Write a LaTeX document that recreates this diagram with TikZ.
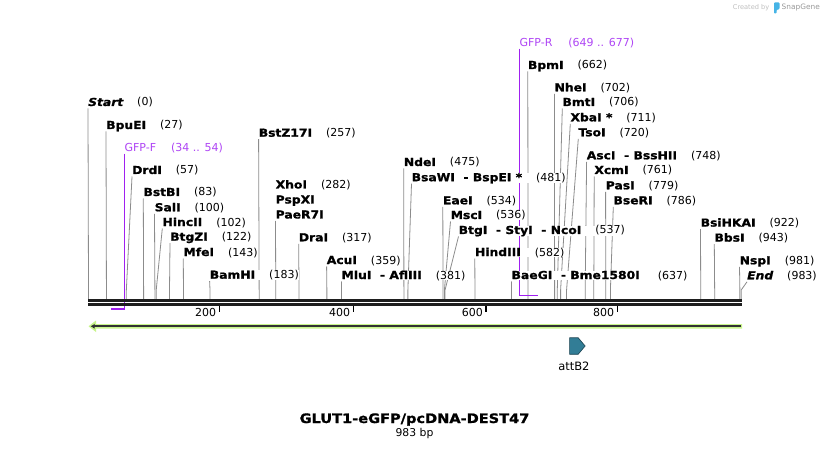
\documentclass[tikz,border=0pt]{standalone}
\usepackage{fontspec}
\setmainfont{DejaVu Sans}
\newfontfamily\namefont{DejaVu Sans}[FakeStretch=1.12, FakeBold=1.2,
  ItalicFont={DejaVu Sans Oblique}, BoldItalicFont={DejaVu Sans Bold Oblique}]
\usepackage{tikz}
\usetikzlibrary{arrows.meta,positioning,shapes,backgrounds}

\definecolor{leadgray}{RGB}{140,140,140}
\definecolor{primerpurple}{RGB}{160,32,240}
\definecolor{primertext}{RGB}{175,70,245}
\definecolor{featgreen}{RGB}{200,245,140}
\definecolor{featline}{RGB}{50,50,50}
\definecolor{attteal}{RGB}{50,125,150}
\definecolor{backblack}{RGB}{30,30,30}
\definecolor{logoblue}{RGB}{70,180,230}

\newcommand{\bploc}[1]{\hspace{14pt}{\normalfont(#1)}}

\begin{document}
\begin{tikzpicture}[x=1pt, y=-1pt,
    enz/.style={anchor=base west, inner sep=0pt, fill=white,
      font=\namefont\bfseries\fontsize{11}{13}\selectfont},
    endlbl/.style={enz, font=\namefont\bfseries\itshape\fontsize{11}{13}\selectfont},
    primerlbl/.style={anchor=base west, inner sep=0pt, fill=white, text=primertext,
      font=\fontsize{11}{13}\selectfont},
    leader/.style={draw=leadgray, line width=0.8pt},
    primer/.style={draw=primerpurple, line width=1.6pt},
    backbone/.style={draw=backblack, line width=2.7pt},
    tick/.style={draw=black, line width=1.5pt},
    ticklbl/.style={anchor=base east, inner sep=0pt, font=\fontsize{11}{13}\selectfont},
    credit/.style={anchor=base west, inner sep=0pt, text=black!25, font=\fontsize{6.6}{8}\selectfont}]

\begin{scope}[on background layer]
  \fill[white] (0,0) rectangle (830,449);
\end{scope}
\useasboundingbox (0,0) rectangle (830,449);

% created by
\node[credit] (created) at (732.7,9.8) {Created by};
\fill[logoblue, rounded corners=0.8pt] (774,2.5) -- (779.5,2.5) -- (779.5,9) -- (776.5,10) -- (776.5,13.5) -- (774,13.5) -- cycle;
\node[credit, text=black!40, font=\fontsize{7.4}{9}\selectfont] (snapgene) at (781.5,9.8) {SnapGene};

% enzyme labels, left
\node[endlbl] (start) at (88,106) {Start\bploc{0}};
\node[enz] (bpuei) at (106,129) {BpuEI\bploc{27}};
\node[primerlbl] (gfpf) at (124.4,151.7) {GFP-F\hspace{15pt}(34 .. 54)};
\node[enz] (drdi) at (132,174) {DrdI\bploc{57}};
\node[enz] (bstbi) at (143.3,196) {BstBI\bploc{83}};
\node[enz] (sali) at (154.5,211.3) {SalI\bploc{100}};
\node[enz] (hincii) at (162.3,226) {HincII\bploc{102}};
\node[enz] (btgzi) at (170,240.7) {BtgZI\bploc{122}};
\node[enz] (mfei) at (183.3,256) {MfeI\bploc{143}};
\node[enz] (bamhi) at (209.6,278.7) {BamHI\bploc{183}};

% middle
\node[enz] (bstz) at (258.6,136.7) {BstZ17I\bploc{257}};
\node[enz] (xhoi) at (275.5,188.5) {XhoI\bploc{282}};
\node[enz] (pspxi) at (275.5,203.5) {PspXI};
\node[enz] (paer) at (275.5,218.5) {PaeR7I};
\node[enz] (drai) at (298.7,241.3) {DraI\bploc{317}};
\node[enz] (acui) at (326.6,264) {AcuI\bploc{359}};
\node[enz] (mlui) at (341.4,279) {MluI~~-~AflIII\bploc{381}};
\node[enz] (ndei) at (403.7,166) {NdeI\bploc{475}};
\node[enz] (bsawi) at (411.5,181.2) {BsaWI~~-~BspEI~*\bploc{481}};
\node[enz] (eaei) at (442.8,204.3) {EaeI\bploc{534}};
\node[enz] (msci) at (450.5,219) {MscI\bploc{536}};
\node[enz] (btgi) at (458.5,234) {BtgI~~-~StyI~~-~NcoI\bploc{537}};
\node[enz] (hindiii) at (474.8,256) {HindIII\bploc{582}};
\node[enz] (baegi) at (511.4,279) {BaeGI~~-~Bme1580I\hspace{4pt}\bploc{637}};

% right
\node[primerlbl] (gfpr) at (519.4,46.7) {GFP-R\hspace{16pt}(649 .. 677)};
\node[enz] (bpmi) at (527.8,69) {BpmI\bploc{662}};
\node[enz] (nhei) at (554.4,91.3) {NheI\bploc{702}};
\node[enz] (bmti) at (562.3,106) {BmtI\bploc{706}};
\node[enz] (xbai) at (570.3,121.3) {XbaI~*\bploc{711}};
\node[enz] (tsoi) at (578.3,136.3) {TsoI\bploc{720}};
\node[enz] (asci) at (586.6,159.3) {AscI~~-~BssHII\bploc{748}};
\node[enz] (xcmi) at (594.2,174) {XcmI\bploc{761}};
\node[enz] (pasi) at (605.6,189.3) {PasI\bploc{779}};
\node[enz] (bseri) at (613.3,204.3) {BseRI\bploc{786}};
\node[enz] (bsihkai) at (700.5,226.6) {BsiHKAI\bploc{922}};
\node[enz] (bbsi) at (714.3,241.6) {BbsI\bploc{943}};
\node[enz] (nspi) at (739.5,264.3) {NspI\bploc{981}};
\node[endlbl] (end) at (747,279.3) {End\bploc{983}};

% leader lines to the cut sites
\begin{scope}[on background layer]
  \foreach \id/\bp in {start/0, bpuei/27, drdi/57, bstbi/83, sali/100, hincii/102,
      btgzi/122, mfei/143, bamhi/183, bstz/257, paer/282, drai/317, acui/359,
      mlui/381, ndei/475, bsawi/481, eaei/534, msci/536, btgi/537, hindiii/582,
      baegi/637, bpmi/662, nhei/702, bmti/706, xbai/711, tsoi/720, asci/748,
      xcmi/761, pasi/779, bseri/786, bsihkai/922, bbsi/943, nspi/981, end/983}{
    \coordinate (s-\id) at ({88.5+0.664*\bp},299);
    \draw[leader] ([yshift=-2.5pt]\id.base west) -- ([yshift=9pt]s-\id) -- (s-\id);
  }
  % primers
  \coordinate (pf-a) at (111.1,308.7);
  \coordinate (pf-b) at (124.4,308.7);
  \draw[primer] ([yshift=-2pt]gfpf.base west) -- (pf-b) -- (pf-a);
  \coordinate (pr-a) at (519.4,295.5);
  \coordinate (pr-b) at (538,295.5);
  \draw[primer] ([yshift=-2pt]gfpr.base west) -- (pr-a) -- (pr-b);
\end{scope}

% sequence
\draw[backbone] (88,300.3) -- (742,300.3);
\draw[backbone] (88,304.3) -- (742,304.3);
\foreach \t/\tx in {200/219.3, 400/353.3, 600/486, 800/617.3}{
  \draw[tick] (\tx,306) -- (\tx,312);
  \node[ticklbl] (tick\t) at (\tx-3,316.5) {\t};
}

% feature arrow
\fill[featgreen] (742,324) -- (96,324) -- (96,320.5) -- (88.5,326.3) -- (96,332) -- (96,328.6) -- (742,328.6) -- cycle;
\draw[featline, line width=1.7pt, -{Latex[length=4pt,width=5pt]}] (741,326.3) -- (90.5,326.3);

% attB2
\node[signal, signal to=east, signal pointer angle=100, draw={rgb,255:red,25;green,65;blue,80},
  fill=attteal, line width=0.6pt, inner sep=0pt, minimum width=15.5pt, minimum height=16.5pt]
  (attb2) at (573.9,346) {};
\node[inner sep=0pt, font=\fontsize{11.5}{13}\selectfont, below=7.5pt of attb2] (attb2lbl) {attB2};

% title
\node[anchor=base, inner sep=0pt, font=\namefont\bfseries\fontsize{13}{15}\selectfont] (title) at (414.5,423) {GLUT1-eGFP/pcDNA-DEST47};
\node[inner sep=0pt, font=\fontsize{10.8}{13}\selectfont, below=2.5pt of title] (size) {983 bp};
\end{tikzpicture}
\end{document}
